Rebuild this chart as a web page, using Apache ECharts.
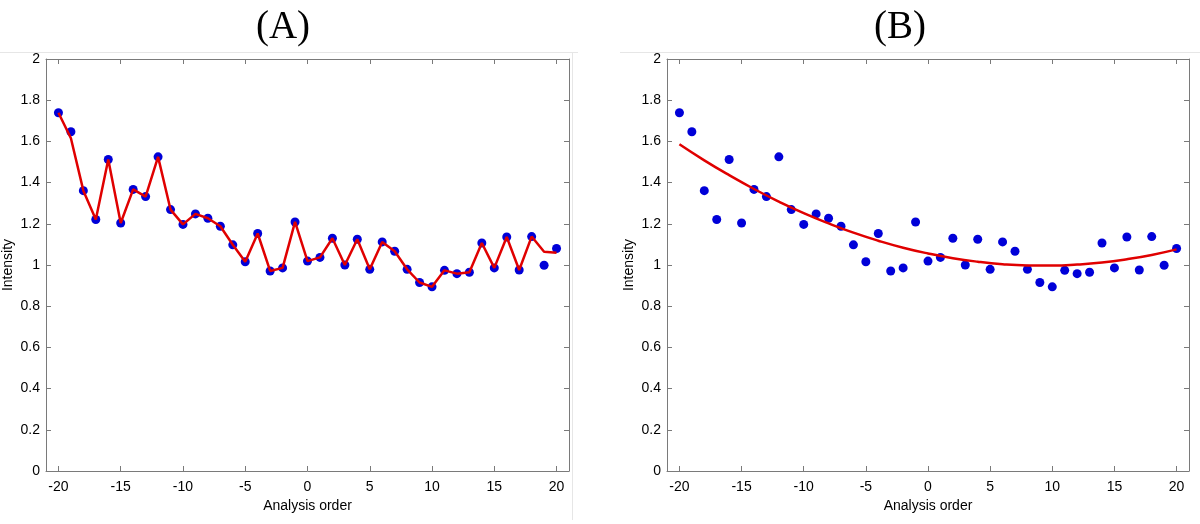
<!DOCTYPE html>
<html>
<head>
<meta charset="utf-8">
<script src="https://cdn.jsdelivr.net/npm/echarts@6/dist/echarts.min.js"></script>
<style>
html,body{margin:0;padding:0;background:#fff;}
#chart{width:1200px;height:524px;}
</style>
</head>
<body>
<div id="chart"></div>
<script>
// ---- data ----
const analysisOrder = [-20,-19,-18,-17,-16,-15,-14,-13,-12,-11,-10,-9,-8,-7,-6,-5,-4,-3,-2,-1,0,1,2,3,4,5,6,7,8,9,10,11,12,13,14,15,16,17,18,19,20];
const intensity = [1.739,1.647,1.361,1.221,1.512,1.204,1.367,1.332,1.525,1.269,1.197,1.248,1.227,1.188,1.098,1.016,1.153,0.971,0.986,1.209,1.019,1.037,1.130,1.000,1.125,0.979,1.112,1.067,0.979,0.915,0.894,0.974,0.958,0.965,1.107,0.986,1.136,0.976,1.138,0.999,1.080];
const lineA = [1.739,1.615,1.361,1.221,1.512,1.204,1.367,1.332,1.525,1.269,1.197,1.248,1.227,1.188,1.098,1.016,1.153,0.971,0.986,1.209,1.019,1.037,1.130,1.000,1.125,0.979,1.112,1.067,0.979,0.915,0.894,0.974,0.958,0.965,1.107,0.986,1.136,0.976,1.138,1.064,1.060];
const fitX = [-20,-18,-16,-14,-12,-10,-8,-6,-4,-2,0,2,4,6,8,10,12,14,16,18,20];
const fitB = [1.586,1.508,1.436,1.369,1.308,1.252,1.202,1.157,1.118,1.084,1.056,1.033,1.016,1.004,0.998,0.997,1.002,1.012,1.028,1.049,1.076];
const xTicks = [-20,-15,-10,-5,0,5,10,15,20];
const titles = ['(A)','(B)'];
const xName = 'Analysis order';
const yName = 'Intensity';

const pairs = (xs, ys) => xs.map((x, i) => [x, ys[i]]);

const axisColor = '#7a7a7a';
const labelFont = {color:'#000', fontSize:14, fontFamily:'"Liberation Sans", Arial, sans-serif'};

const grids = [
  {left:45, top:59, width:524, height:412},
  {left:667, top:59, width:522, height:412}
];

const xAxes = [], yAxes = [];
grids.forEach((g, i) => {
  xAxes.push({
    type:'value', gridIndex:i, position:'bottom', min:-21, max:21,
    axisLine:{show:true, onZero:false, lineStyle:{color:axisColor, width:1}},
    axisTick:{show:true, inside:true, length:5, customValues:xTicks, lineStyle:{color:axisColor}},
    axisLabel:Object.assign({show:true, margin:9, customValues:xTicks}, labelFont),
    splitLine:{show:false},
    name:xName, nameLocation:'middle', nameGap:27,
    nameTextStyle:labelFont
  });
  xAxes.push({
    type:'value', gridIndex:i, position:'top', min:-21, max:21,
    axisLine:{show:true, onZero:false, lineStyle:{color:axisColor, width:1}},
    axisTick:{show:true, inside:true, length:5, customValues:xTicks, lineStyle:{color:axisColor}},
    axisLabel:{show:false},
    splitLine:{show:false}
  });
  yAxes.push({
    type:'value', gridIndex:i, position:'left', min:0, max:2, interval:0.2,
    axisLine:{show:true, onZero:false, lineStyle:{color:axisColor, width:1}},
    axisTick:{show:true, inside:true, length:5, lineStyle:{color:axisColor}},
    axisLabel:Object.assign({show:true, margin:6}, labelFont),
    splitLine:{show:false},
    name:yName, nameLocation:'middle', nameGap:31,
    nameTextStyle:labelFont
  });
  yAxes.push({
    type:'value', gridIndex:i, position:'right', min:0, max:2, interval:0.2,
    axisLine:{show:true, onZero:false, lineStyle:{color:axisColor, width:1}},
    axisTick:{show:true, inside:true, length:5, lineStyle:{color:axisColor}},
    axisLabel:{show:false},
    splitLine:{show:false}
  });
});

const blue = '#0000d8';
const red = '#e00000';

const option = {
  backgroundColor:'#ffffff',
  animation:false,
  grid:grids,
  xAxis:xAxes,
  yAxis:yAxes,
  graphic:[
    {type:'line', shape:{x1:0, y1:52.5, x2:578, y2:52.5}, style:{stroke:'#e6e6e6', lineWidth:1}, silent:true},
    {type:'line', shape:{x1:572.5, y1:52, x2:572.5, y2:520}, style:{stroke:'#e6e6e6', lineWidth:1}, silent:true},
    {type:'line', shape:{x1:620, y1:52.5, x2:1200, y2:52.5}, style:{stroke:'#e6e6e6', lineWidth:1}, silent:true},
    {type:'text', x:283, y:28, style:{text:titles[0], font:'39px "Liberation Serif", "DejaVu Serif", serif', fill:'#000', textAlign:'center', textVerticalAlign:'middle'}},
    {type:'text', x:900, y:28, style:{text:titles[1], font:'39px "Liberation Serif", "DejaVu Serif", serif', fill:'#000', textAlign:'center', textVerticalAlign:'middle'}}
  ],
  series:[
    {type:'scatter', xAxisIndex:0, yAxisIndex:0, data:pairs(analysisOrder, intensity), symbol:'circle', symbolSize:9, itemStyle:{color:blue, opacity:1}, z:2},
    {type:'line', xAxisIndex:0, yAxisIndex:0, data:pairs(analysisOrder, lineA), symbol:'none', lineStyle:{color:red, width:2.5}, z:3},
    {type:'scatter', xAxisIndex:2, yAxisIndex:2, data:pairs(analysisOrder, intensity), symbol:'circle', symbolSize:9, itemStyle:{color:blue, opacity:1}, z:2},
    {type:'line', xAxisIndex:2, yAxisIndex:2, data:pairs(fitX, fitB), symbol:'none', smooth:true, lineStyle:{color:red, width:2.5}, z:3}
  ]
};

const chart = echarts.init(document.getElementById('chart'), null, {renderer:'canvas'});
chart.setOption(option);
</script>
</body>
</html>
